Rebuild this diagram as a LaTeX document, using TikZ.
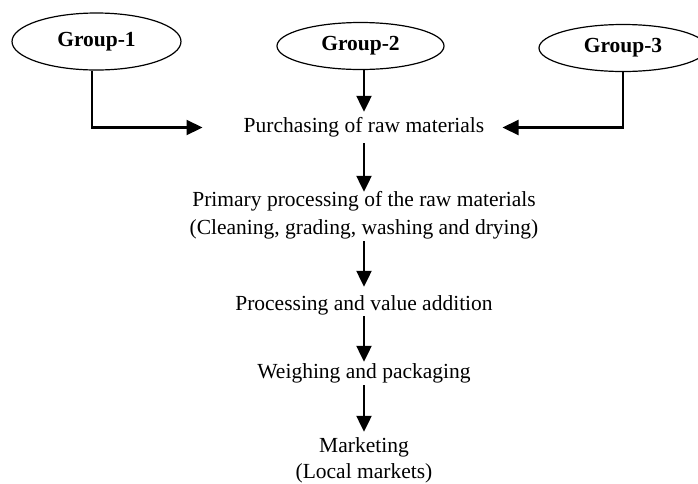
\documentclass[tikz,border=0pt]{standalone}
\usepackage{fontspec}
\setmainfont{Liberation Serif}
\usetikzlibrary{shapes.geometric,arrows.meta}
\begin{document}
\begin{tikzpicture}[x=1pt,y=1pt,
  grp/.style={draw,ellipse,line width=1.2pt,inner sep=0pt,font=\fontsize{21.5}{25}\selectfont\bfseries},
  txt/.style={inner sep=0pt,anchor=base,text height=14pt,text depth=5pt,font=\fontsize{21.5}{25}\selectfont},
  arr/.style={line width=2.2pt,-{Triangle[length=16pt,width=15pt]}}]
\useasboundingbox (0,0) rectangle (698,-483);
\node[grp,minimum width=169pt,minimum height=57pt] (g1) at (96.5,-41.5) {Group-1};
\node[grp,minimum width=167pt,minimum height=47pt] (g2) at (360.5,-46) {Group-2};
\node[grp,minimum width=168pt,minimum height=47pt] (g3) at (623,-48) {Group-3};
\node[txt] (purch) at (364,-132) {Purchasing of raw materials};
\node[txt] (prim) at (364,-206) {Primary processing of the raw materials};
\node[txt] (clean) at (364,-234) {(Cleaning, grading, washing and drying)};
\node[txt] (proc) at (364,-310) {Processing and value addition};
\node[txt] (weigh) at (364,-378) {Weighing and packaging};
\node[txt] (mark) at (364,-452) {Marketing};
\node[txt] (local) at (364,-478) {(Local markets)};
\draw[arr] ([xshift=-4.5pt]g1.south) |- ([xshift=-41pt]purch.west);
\draw[arr] ([xshift=0pt]g3.south) |- ([xshift=18pt]purch.east);
\draw[arr,shorten >=6pt] (purch.north |- g2.south) -- (purch.north);
\draw[arr,shorten <=6pt] (purch.south) -- (prim.north);
\draw[arr,shorten <=2pt,shorten >=9pt] (clean.south) -- (proc.north);
\draw[arr,shorten <=1pt,shorten >=2pt] (proc.south) -- (weigh.north);
\draw[arr,shorten <=2pt,shorten >=6pt] (weigh.south) -- (mark.north);
\end{tikzpicture}
\end{document}
